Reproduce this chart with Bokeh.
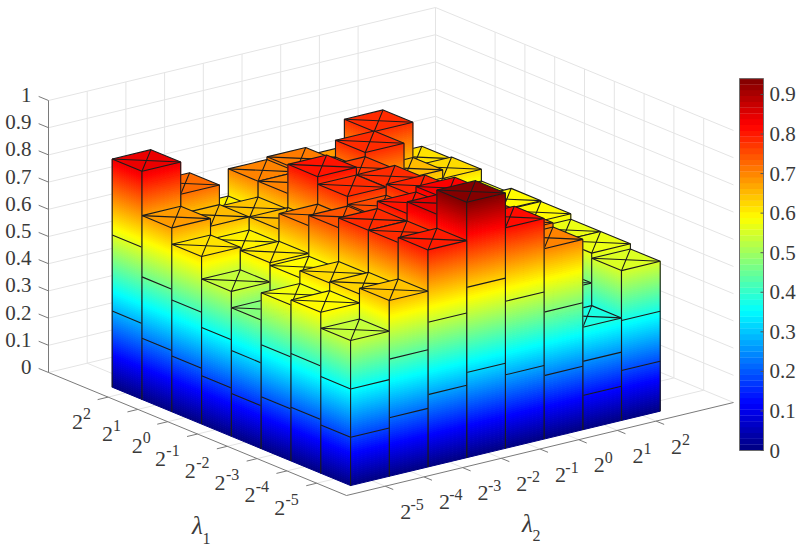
from bokeh.plotting import figure
from bokeh.embed import file_html
from bokeh.resources import INLINE
from bokeh.models import ColumnDataSource
from bokeh.core.properties import value
import numpy as np

lambda1_exp = [-5, -4, -3, -2, -1, 0, 1, 2]
lambda2_exp = [-5, -4, -3, -2, -1, 0, 1, 2]
z_ticks = [0, .1, .2, .3, .4, .5, .6, .7, .8, .9, 1]
z_labels = ["0", "0.1", "0.2", "0.3", "0.4", "0.5", "0.6", "0.7", "0.8", "0.9", "1"]
cb_ticks = [0, .1, .2, .3, .4, .5, .6, .7, .8, .9]
cb_labels = ["0", "0.1", "0.2", "0.3", "0.4", "0.5", "0.6", "0.7", "0.8", "0.9"]
# rows: lambda1 = 2^-5 ... 2^2; columns: lambda2 = 2^-5 ... 2^2
row_m5 = [.533, .646, .798, .939, .811, .700, .377, .551]
row_m4 = [.592, .625, .780, .850, .800, .716, .460, .570]
row_m3 = [.573, .620, .780, .807, .827, .700, .600, .570]
row_m2 = [.473, .594, .744, .750, .790, .660, .610, .590]
row_m1 = [.533, .604, .706, .779, .780, .650, .600, .593]
row_0  = [.616, .600, .648, .807, .767, .680, .620, .575]
row_p1 = [.676, .648, .642, .700, .720, .782, .650, .618]
row_p2 = [.839, .720, .600, .700, .710, .680, .780, .612]
Z = [row_m5, row_m4, row_m3, row_m2, row_m1, row_0, row_p1, row_p2]
ZMAX = 0.94

def jet(t):
    r = np.clip(min(4*t-1.5, -4*t+4.5), 0, 1)
    g = np.clip(min(4*t-0.5, -4*t+3.5), 0, 1)
    b = np.clip(min(4*t+0.5, -4*t+2.5), 0, 1)
    return "#%02x%02x%02x" % (int(r*255), int(g*255), int(b*255))
NL = 64
LEVELS = [jet((k+.5)/NL) for k in range(NL)]
NF = 128
FINE = [jet((k+.5)/NF) for k in range(NF)]
def col(z):
    return FINE[min(NF-1, max(0, int(z/ZMAX*NF)))]

O = (346.0, 495.0); U = (38.7, -9.3); V = (-29.8, -12.3); ZS = 272.0
def P(a, b, z=0.0):
    return (O[0]+a*U[0]+b*V[0], O[1]+a*U[1]+b*V[1]-z*ZS)

p = figure(width=800, height=553, x_range=(0, 800), y_range=(553, 0), toolbar_location=None,
           output_backend="svg", min_border=0)
p.axis.visible = False; p.grid.visible = False; p.outline_line_color = None

GRID = "#e4e4e4"; AX = "#7a7a7a"; TXT = "#3a3a3a"
def seg(a, b, color, w=1.0):
    p.line([a[0], b[0]], [a[1], b[1]], line_color=color, line_width=w)

for t in range(1, 9):
    seg(P(t, 10), P(t, 10, 1), GRID); seg(P(10, t), P(10, t, 1), GRID)
    seg(P(t, 0), P(t, 10), GRID); seg(P(0, t), P(10, t), GRID)
for z in z_ticks:
    seg(P(0, 10, z), P(10, 10, z), GRID); seg(P(10, 10, z), P(10, 0, z), GRID)
seg(P(10, 10), P(10, 10, 1), GRID)
seg(P(0, 10), P(0, 10, 1), AX)
seg(P(0, 10), P(0, 0), AX); seg(P(0, 0), P(10, 0), AX)
for t in range(1, 9):
    seg(P(t, 0), P(t, -.27), AX); seg(P(0, t), P(-.27, t), AX)
for z in z_ticks:
    seg(P(0, 10, z), P(0, 10.33, z), AX)

xs, ys, fills, falpha, lines, lw = [], [], [], [], [], []
def poly(pts, fill=None, line=None, w=1.1):
    xs.append([q[0] for q in pts]); ys.append([q[1] for q in pts])
    fills.append(fill or "#000000"); falpha.append(1.0 if fill else 0.0)
    lines.append(line or fill); lw.append(w)

A0 = 0.46; B0 = 0.46
EDGE = "#1c1c1c"
def face(q0, q1, h, low):
    if h <= low: return
    k0 = int(low/ZMAX*NF); k1 = int(h/ZMAX*NF)
    for k in range(k0, k1+1):
        z0 = max(low, k*ZMAX/NF); z1 = min(h, (k+1)*ZMAX/NF)
        if z1 <= z0: continue
        c = FINE[min(k, NF-1)]
        poly([P(*q0, z0), P(*q1, z0), P(*q1, z1), P(*q0, z1)], fill=c, line=c, w=1.0)
    for f in (1/3, 2/3):
        if h*f > low:
            poly([P(*q0, h*f), P(*q1, h*f)], line=EDGE)
    poly([P(*q0, low), P(*q0, h)], line=EDGE)
    poly([P(*q1, low), P(*q1, h)], line=EDGE)

for s in range(14, -1, -1):
    for j in range(7, -1, -1):
        i = s-j
        if not 0 <= i <= 7: continue
        h = Z[j][i]
        a0, a1, b0, b1 = A0+i, A0+i+1, B0+j, B0+j+1
        lowl = Z[j][i-1] if i > 0 else 0
        lowr = Z[j-1][i] if j > 0 else 0
        face((a0, b1), (a0, b0), h, lowl)
        face((a0, b0), (a1, b0), h, lowr)
        t = [P(a0, b0, h), P(a1, b0, h), P(a1, b1, h), P(a0, b1, h)]
        poly(t, fill=col(h), line=EDGE)
        poly([t[0], t[2]], line=EDGE); poly([t[1], t[3]], line=EDGE)
src = ColumnDataSource(dict(xs=xs, ys=ys, f=fills, fa=falpha, l=lines, w=lw))
p.patches("xs", "ys", source=src, fill_color="f", fill_alpha="fa", line_color="l", line_width="w")

CX0, CX1, CB0, CS = 739, 763, 450.0, 395.6
def cy(v): return CB0 - v*CS
p.quad(left=[CX0]*NL, right=[CX1]*NL,
       bottom=[cy(k*ZMAX/NL) for k in range(NL)], top=[cy((k+1)*ZMAX/NL)-.3 for k in range(NL)],
       fill_color=LEVELS, line_color=None)
p.quad(left=[CX0], right=[CX1], bottom=[cy(0)], top=[cy(ZMAX)], fill_color=None, line_color="#6e6e6e", line_width=1)
for v in cb_ticks:
    seg((CX1-3, cy(v)), (CX1, cy(v)), "#555555")

SERIF = value("Liberation Serif")
def txt(x, y, s, size, align="center", style="normal"):
    p.text([x], [y], text=[s], text_font=SERIF, text_font_size=f"{size}px", text_color=TXT,
           text_align=align, text_baseline="middle", text_font_style=style)

for v, s in zip(z_ticks, z_labels):
    q = P(0, 10, v); txt(31, q[1]-5.5, s, 21, "right")
for v, s in zip(cb_ticks, cb_labels):
    txt(769, cy(v), s, 21, "left")
for n, e in enumerate(lambda1_exp):
    q = P(0, n+1)
    dx = -30.5 if e >= 0 else -37
    txt(q[0]+dx, q[1]+24.5, "2", 22)
    txt(q[0]+dx+(9.5 if e >= 0 else 12.5), q[1]+16, str(e), 16)
for n, e in enumerate(lambda2_exp):
    q = P(n+1, 0)
    txt(q[0]+20.5, q[1]+25.5, "2", 22)
    txt(q[0]+20.5+(9.5 if e >= 0 else 11.5), q[1]+18, str(e), 16)
txt(197, 525, "λ", 25, style="italic"); txt(206, 538, "1", 16)
txt(527, 523, "λ", 25, style="italic"); txt(536, 535, "2", 16)

open("out.html", "w").write(file_html(p, INLINE))
